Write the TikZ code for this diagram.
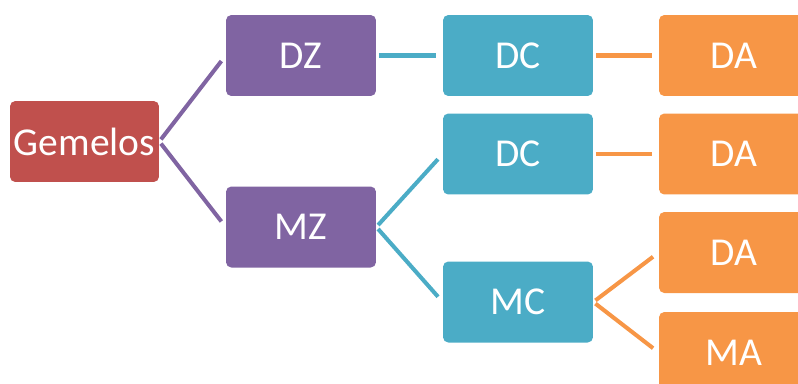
\documentclass[tikz,border=0pt]{standalone}
\usepackage{fontspec}
\setmainfont{Carlito}
\definecolor{gemred}{HTML}{C0504D}
\definecolor{zygpurple}{HTML}{8064A2}
\definecolor{chorteal}{HTML}{4BACC6}
\definecolor{amnorange}{HTML}{F79646}
\tikzset{
  box/.style={rectangle, rounded corners=3pt, text=white, minimum width=3cm, minimum height=1.62cm,
    font=\fontsize{22.5}{27}\selectfont, inner sep=0pt},
  link/.style={line width=2.3pt, shorten <=1.5, shorten >=4}
}

\begin{document}
\begin{tikzpicture}[x=0.02cm, y=-0.02cm]
    % Frame
    \useasboundingbox (0,0) rectangle (798,383);
    \clip (0,0) rectangle (798,383);

    % Root
    \node[box, fill=gemred, minimum width=2.98cm] (gem) at (84.5,141.5) {Gemelos};

    % Zygosity
    \node[box, fill=zygpurple] (dz) at (301,55.5) {DZ};
    \node[box, fill=zygpurple] (mz) at (301,227) {MZ};

    % Chorion
    \node[box, fill=chorteal] (dc1) at (518,55.5) {DC};
    \node[box, fill=chorteal] (dc2) at (518,154) {DC};
    \node[box, fill=chorteal] (mc) at (518,302) {MC};

    % Amnion
    \node[box, fill=amnorange] (da1) at (734,55.5) {DA};
    \node[box, fill=amnorange] (da2) at (734,154) {DA};
    \node[box, fill=amnorange] (da3) at (734,252.5) {DA};
    \node[box, fill=amnorange] (ma) at (734,352.5) {MA};

    % Connectors
    \draw[link, zygpurple] (gem.east) -- (dz.west);
    \draw[link, zygpurple] (gem.east) -- (mz.west);
    \draw[link, chorteal] (dz.east) -- (dc1.west);
    \draw[link, chorteal] (mz.east) -- (dc2.west);
    \draw[link, chorteal] (mz.east) -- (mc.west);
    \draw[link, amnorange] (dc1.east) -- (da1.west);
    \draw[link, amnorange] (dc2.east) -- (da2.west);
    \draw[link, amnorange] (mc.east) -- (da3.west);
    \draw[link, amnorange] (mc.east) -- (ma.west);
\end{tikzpicture}
\end{document}
